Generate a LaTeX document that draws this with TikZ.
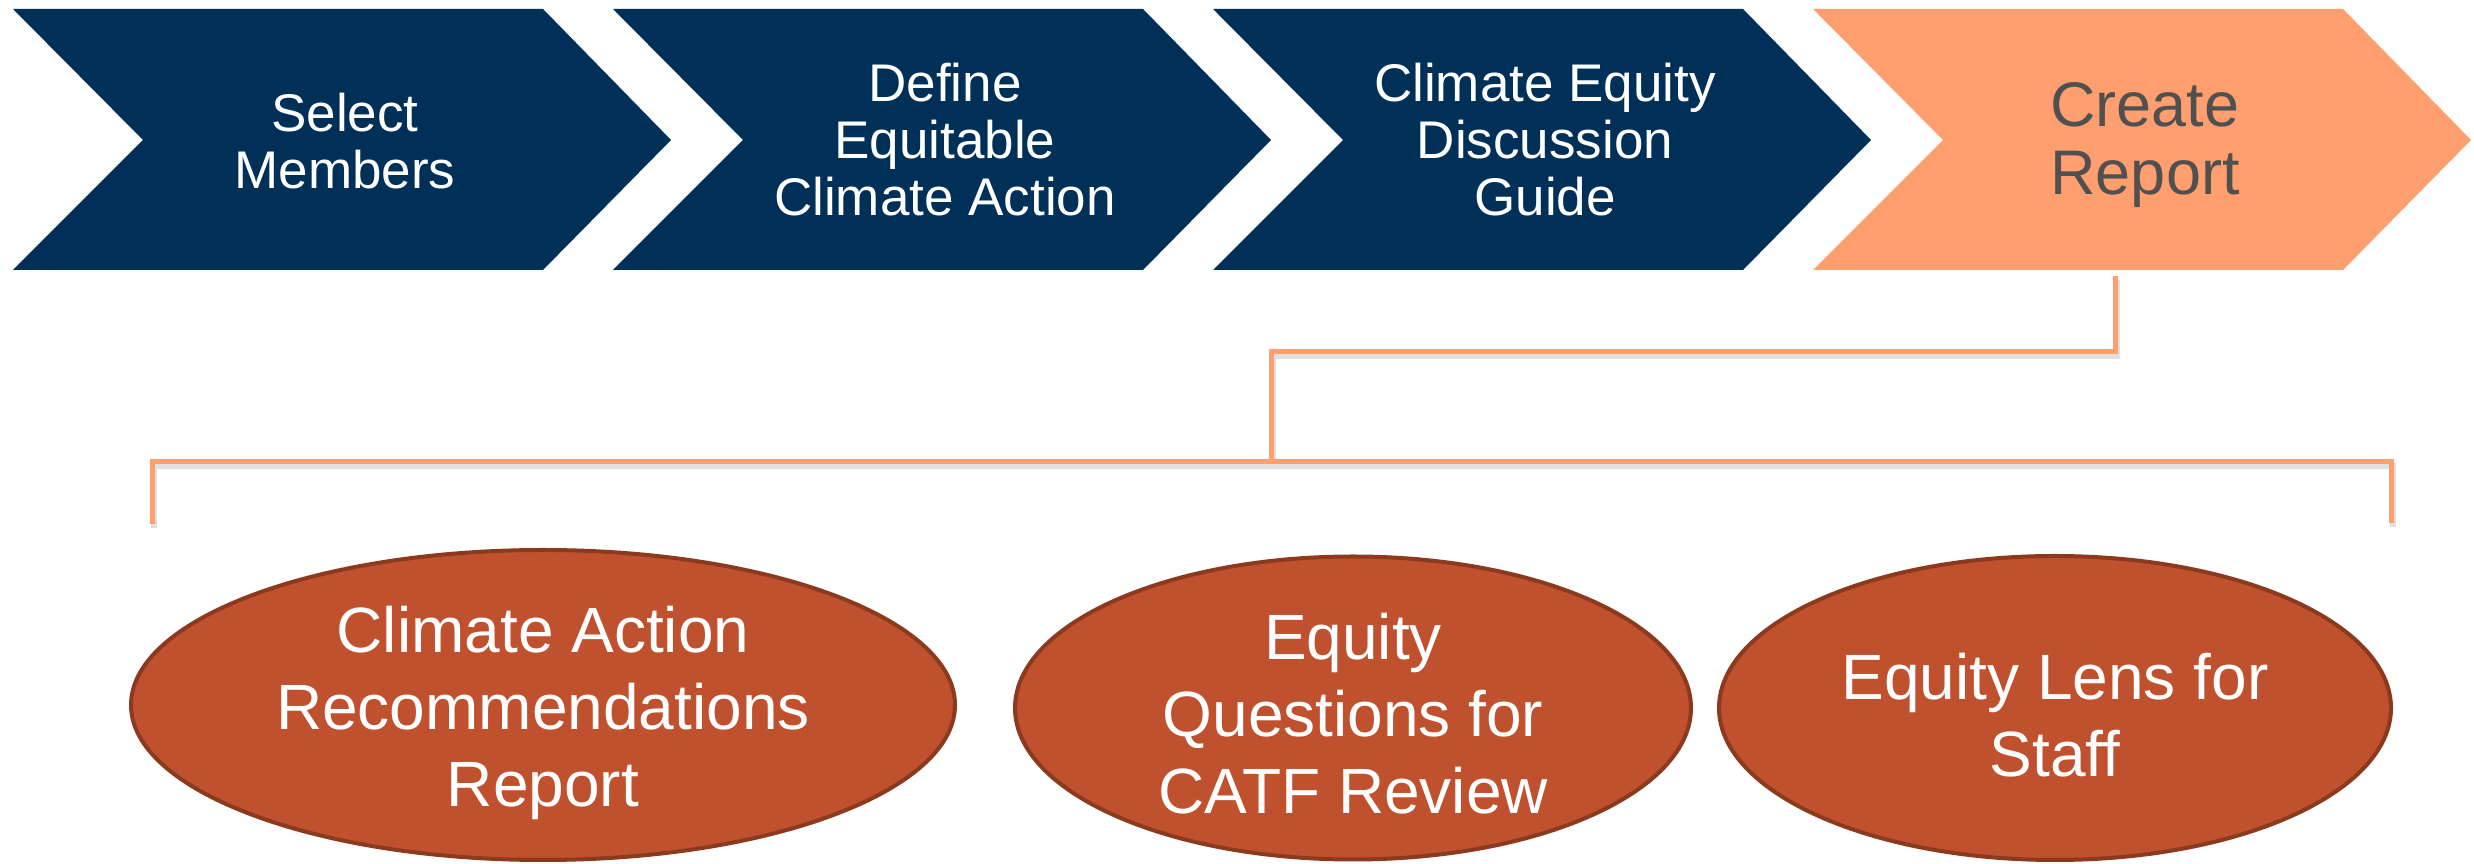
\documentclass[tikz,border=0pt]{standalone}
\usepackage{fontspec}
\setmainfont{Liberation Sans}
\usetikzlibrary{shapes, positioning, calc}
\definecolor{navy}{HTML}{003058}
\definecolor{salmon}{HTML}{FF9E6E}
\definecolor{rust}{HTML}{C0512F}
\definecolor{rustdark}{HTML}{8B3A1E}
\definecolor{greytext}{HTML}{505050}
\tikzset{
  steptext/.style={text=white, align=center, font=\fontsize{53}{57}\selectfont},
  outcome/.style={ellipse, draw=rustdark, line width=4pt, fill=rust, inner sep=0pt},
  outtext/.style={text=white, align=center, font=\fontsize{64}{77}\selectfont},
  link/.style={salmon, line width=5pt},
  linkshadow/.style={black!12, line width=6pt, transform canvas={xshift=2pt,yshift=-4pt}}
}

\begin{document}
\begin{tikzpicture}[x=1pt,y=1pt]
    \useasboundingbox (0,0) rectangle (2474,864);
    % the four steps
    \fill[navy] (13,855) -- (543,855) -- (671,724) -- (543,594) -- (13,594) -- (143,724) -- cycle;
    \fill[navy] (613,855) -- (1143,855) -- (1271,724) -- (1143,594) -- (613,594) -- (743,724) -- cycle;
    \fill[navy] (1213,855) -- (1743,855) -- (1871,724) -- (1743,594) -- (1213,594) -- (1343,724) -- cycle;
    \fill[salmon] (1813,855) -- (2343,855) -- (2471,724) -- (2343,594) -- (1813,594) -- (1943,724) -- cycle;
    \node[steptext] (sel) at (345,723) {Select\\Members};
    \node[steptext] (def) at (945,724) {Define\\Equitable\\Climate Action};
    \node[steptext] (disc) at (1545,724) {Climate Equity\\Discussion\\Guide};
    \node[steptext, text=greytext, font=\fontsize{63}{68}\selectfont] (rep) at (2145,719) {Create\\Report};

    % outputs
    \node[outcome, minimum width=824pt, minimum height=310pt] (rec) at (543,159) {};
    \node[outcome, minimum width=676pt, minimum height=303pt] (quest) at (1353,156) {};
    \node[outcome, minimum width=672pt, minimum height=304pt] (lens) at (2055,156) {};
    \node[outtext] (rectext) at ($(rec)+(0,-8)$) {Climate Action\\Recommendations\\Report};
    \node[outtext] (questtext) at ($(quest)+(0,-6)$) {Equity\\Questions for\\CATF Review};
    \node[outtext] (lenstext) at ($(lens)+(0,-7)$) {Equity Lens for\\Staff};

    \coordinate (repfoot) at (2115,588);
    \coordinate (split) at (1271,512);
    \coordinate (hub) at (1271,402);
    \coordinate (brL) at (152,402);
    \coordinate (brR) at (2391,402);
    \coordinate (endL) at (152,340);
    \coordinate (endR) at (2391,341);
    \draw[linkshadow] (repfoot) |- (split) -- (hub);
    \draw[linkshadow] (endL) -- (brL) -- (brR) -- (endR);
    \draw[link] (repfoot) |- (split) -- (hub);
    \draw[link] (endL) -- (brL) -- (brR) -- (endR);
\end{tikzpicture}
\end{document}
